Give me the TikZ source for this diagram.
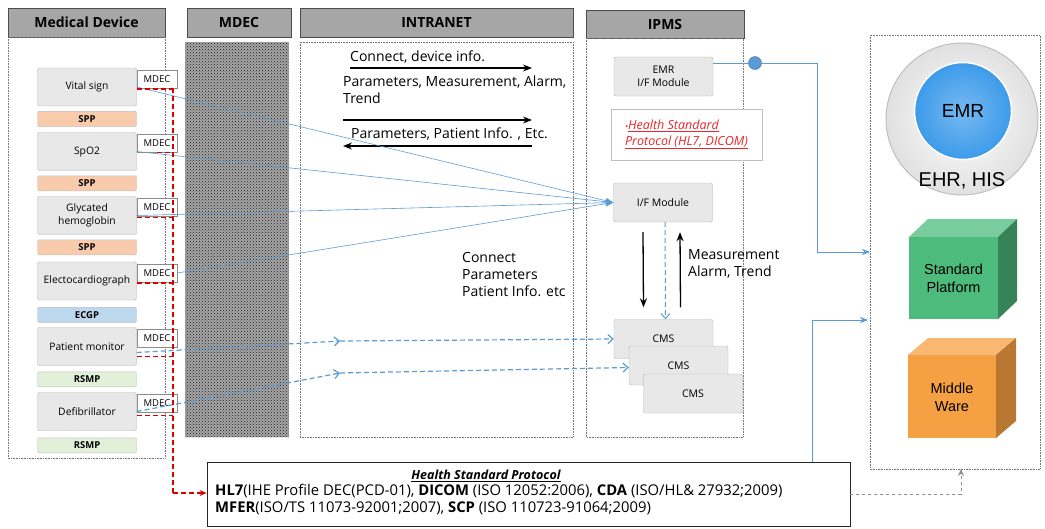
\documentclass[tikz,border=0pt]{standalone}
\usepackage{fontspec}
\setmainfont{Open Sans}
\newfontfamily\arialfont{Liberation Sans}
\usetikzlibrary{arrows.meta,patterns,positioning}

\definecolor{hdrgray}{HTML}{A6A6A6}
\definecolor{boxgray}{HTML}{E8E8E8}
\definecolor{sppfill}{HTML}{F8CBAD}
\definecolor{ecgfill}{HTML}{BDD7EE}
\definecolor{rsmfill}{HTML}{E2F0D9}
\definecolor{linkblue}{HTML}{5B9BD5}
\definecolor{stdred}{HTML}{E8262A}
\definecolor{emrblue}{HTML}{3D9BEA}
\definecolor{greenfront}{HTML}{4DBB7C}
\definecolor{orangefront}{HTML}{F5A043}

\tikzset{
  header/.style={draw=black!70, fill=hdrgray, line width=0.9pt, inner sep=0pt,
    font=\bfseries\fontsize{14}{16}\selectfont},
  column/.style={draw=black!55, densely dotted, line width=0.6pt},
  devbox/.style={draw=black!30, fill=boxgray, rounded corners=2pt, align=center,
    minimum width=99pt, minimum height=38pt, inner sep=1pt,
    font=\fontsize{10.3}{13}\selectfont},
  protobar/.style={draw=black!25, rounded corners=1pt, minimum width=99pt,
    minimum height=15pt, inner sep=0pt, font=\bfseries\fontsize{9.5}{10}\selectfont},
  mdecbox/.style={draw=black!45, fill=white, minimum width=40pt, minimum height=18pt,
    inner sep=0pt, font=\fontsize{9.5}{10}\selectfont},
  modbox/.style={draw=black!30, fill=boxgray, rounded corners=2pt, align=center,
    minimum width=99pt, minimum height=39pt, inner sep=1pt,
    font=\fontsize{10.5}{13}\selectfont},
  note/.style={inner sep=0pt, align=left, font=\fontsize{14}{17}\selectfont},
  blkarrow/.style={-{Stealth[length=9pt,width=7pt]}, line width=1.3pt},
  blueline/.style={draw=linkblue, line width=0.6pt},
  bluearrow/.style={blueline, -{Stealth[length=8pt,width=6pt]}},
  bluedash/.style={draw=linkblue, dash pattern=on 5pt off 3pt, line width=1.2pt,
    -{Straight Barb[length=5pt,width=9pt]}},
  reddash/.style={draw=red!85!black, dash pattern=on 5pt off 3pt, line width=1.2pt},
}

\begin{document}
\begin{tikzpicture}[x=1pt, y=-1pt]
  \useasboundingbox (0,0) rectangle (1045,528);

  % column headers
  \node[header, minimum width=157pt, minimum height=29pt] (hdev) at (86.5,22.5) {Medical Device};
  \node[header, minimum width=104pt, minimum height=29pt] (hmdec) at (239,22.5) {MDEC};
  \node[header, minimum width=273pt, minimum height=29pt] (hnet) at (436.5,22.5) {INTRANET};
  \node[header, minimum width=158pt, minimum height=28pt] (hipms) at (665,24) {IPMS};

  % columns
  \draw[column] (8,37) rectangle (165,458);
  \fill[black!35] (185,42) rectangle (289,437);
  \fill[pattern=crosshatch dots, pattern color=black!90] (185,42) rectangle (289,437);
  \draw[column] (300,42) rectangle (573,437);
  \draw[column] (586,38) rectangle (743,437);
  \draw[column] (870,35) rectangle (1040,469);

  % medical devices
  \foreach \name/\y/\txt in {vs/87/Vital sign, spo/151.5/SpO2, gly/215.5/{Glycated\\hemoglobin},
      ecg/281/Electocardiograph, pm/346.5/Patient monitor, def/411.5/Defibrillator}{
    \node[devbox] (\name) at (87,\y) {\txt};
    \node[mdecbox, anchor=north west] (m\name) at ([yshift=-2pt]\name.north east) {MDEC};
  }
  \node[protobar, fill=sppfill, below=5pt of vs] (p1) {SPP};
  \node[protobar, fill=sppfill, below=5pt of spo] (p2) {SPP};
  \node[protobar, fill=sppfill, below=5pt of gly] (p3) {SPP};
  \node[protobar, fill=ecgfill, below=7pt of ecg] (p4) {ECGP};
  \node[protobar, fill=rsmfill, below=6pt of pm] (p5) {RSMP};
  \node[protobar, fill=rsmfill, below=7pt of def] (p6) {RSMP};

  % IPMS modules
  \node[modbox] (emrif) at (663.5,76.5) {EMR\\I/F Module};
  \node[draw=black!25, fill=white, minimum width=151pt, minimum height=51pt, inner sep=0pt,
    text=stdred, align=left, font=\itshape\fontsize{12.5}{16}\selectfont] (hsp) at (686.5,134.5)
    {{\fontsize{8}{8}\selectfont\textbullet}\underline{Health Standard}\\\underline{Protocol (HL7, DICOM)}};
  \node[modbox] (ifm) at (663,202.5) {I/F Module};
  \node[modbox] (cms1) at (663.5,339) {CMS};
  \node[modbox] (cms2) at (678.5,365.5) {CMS};
  \node[modbox] (cms3) at (693,393.5) {CMS};

  % intranet messages
  \node[note, anchor=south west] (t1) at (350,64) {Connect, device info.};
  \coordinate (a1s) at (350,68);
  \coordinate (a1e) at (532,68);
  \draw[blkarrow, line width=1.1pt] (a1s) -- (a1e);
  \node[note, anchor=north west] (t2) at (343,76) {Parameters, Measurement, Alarm,\\Trend};
  \coordinate (a2s) at (343,120);
  \coordinate (a2e) at (532,120);
  \draw[blkarrow, line width=1.1pt] (a2s) -- (a2e);
  \node[note, anchor=south west] (t3) at (351,141) {Parameters, Patient Info. , Etc.};
  \coordinate (a3s) at (532,146);
  \coordinate (a3e) at (343,146);
  \draw[blkarrow, line width=1.1pt] (a3s) -- (a3e);
  \node[note, anchor=north west] (t4) at (462,252) {Connect\\Parameters\\Patient Info. etc};
  \node[note, anchor=north west] (t5) at (688,249) {Measurement\\Alarm, Trend};

  % device links to I/F module
  \draw[bluearrow] (vs.east) -- (ifm.west);
  \draw[bluearrow] (spo.east) -- (ifm.west);
  \draw[bluearrow] (gly.east) -- (ifm.west);
  \draw[bluearrow] (mecg.east) -- (ifm.west);

  % device links to CMS
  \coordinate (mid1) at (340,341);
  \coordinate (mid2) at (340,373);
  \draw[bluedash] ([yshift=-6pt]pm.east) -- (mid1);
  \draw[bluedash] (mid1) -- (cms1.west);
  \draw[bluedash] (def.east) -- (mid2);
  \draw[bluedash] (mid2) -- ([yshift=-2pt]cms2.west);

  % I/F module and CMS
  \draw[blkarrow] ([xshift=-20pt,yshift=-10pt]ifm.south) -- ([xshift=-20pt,yshift=12pt]cms1.north);
  \draw[bluedash, line width=1pt] ([xshift=2pt]ifm.south) -- ([xshift=2pt]cms1.north);
  \draw[blkarrow] ([xshift=17pt,yshift=12pt]cms1.north) -- ([xshift=17pt,yshift=-10pt]ifm.south);

  % health standard protocol
  \node[draw=black!85, line width=0.8pt, minimum width=643pt, minimum height=64pt] (proto) at (528.5,494) {};
  \node[inner sep=0pt, font=\bfseries\itshape\fontsize{12.5}{14}\selectfont] (ptitle) at (486,476) {\underline{Health Standard Protocol}};
  \node[inner sep=0pt, anchor=north west, align=left, font=\fontsize{14.8}{17}\selectfont] (ptext) at (215,484)
    {\textbf{HL7}(IHE Profile DEC(PCD-01), \textbf{DICOM} (ISO 12052:2006), \textbf{CDA} (ISO/HL\& 27932;2009)\\
     \textbf{MFER}(ISO/TS 11073-92001;2007), \textbf{SCP} (ISO 110723-91064;2009)};

  % red dashed links to protocol
  \coordinate (rtop) at (173,88);
  \coordinate (rbot) at (173,493);
  \draw[reddash] (rtop) -- (rbot);
  \draw[reddash, -{Stealth[length=7pt,width=6pt]}] (rbot) -- (rbot -| proto.west);
  \draw[reddash] ([yshift=-2pt]vs.east) -- ([yshift=-2pt]vs.east -| rtop);
  \draw[reddash] (mspo.south) -- (mspo.south -| rtop);
  \draw[reddash] ([yshift=-2pt]gly.east) -- ([yshift=-2pt]gly.east -| rtop);
  \draw[reddash] ([yshift=-2pt]ecg.east) -- ([yshift=-2pt]ecg.east -| rtop);
  \draw[reddash] ([yshift=-10pt]pm.east) -- ([yshift=-10pt]pm.east -| rtop);
  \draw[reddash] ([yshift=-4pt]def.east) -- ([yshift=-4pt]def.east -| rtop);

  % right side systems
  \node[circle, fill=linkblue, draw=linkblue!70!black, minimum size=13pt, inner sep=0pt] (dot) at (755,63) {};
  \coordinate (emrin) at (870,252);
  \coordinate (stdin) at (868,320);
  \coordinate (hisin) at (961,469);
  \draw[blueline] ([yshift=13.5pt]emrif.east) -- (dot);
  \draw[bluearrow] (dot) -- ++(62,0) |- (emrin);
  \draw[bluearrow] ([xshift=-38pt]proto.north east) |- (stdin);
  \draw[draw=black!45, dashed, line width=0.9pt, -{Stealth[length=7pt,width=6pt]}] (proto.east) -| (hisin);

  \node[circle, minimum size=152pt, inner sep=0pt, draw=black!25, line width=1pt,
    inner color=white, outer color=black!12] (his) at (962,119) {};
  \node[circle, minimum size=97pt, inner sep=0pt, draw=white, line width=1.5pt,
    inner color=emrblue!70, outer color=emrblue, font=\arialfont\fontsize{19}{21}\selectfont] (emr) at (963,111) {EMR};
  \node[font=\arialfont\fontsize{20}{22}\selectfont, inner sep=0pt] (hislbl) at (962,181) {EHR, HIS};

  % platform cube
  \fill[greenfront!75!white] (909,237) -- (928,219) -- (1017,219) -- (998,237) -- cycle;
  \fill[greenfront!70!black] (998,237) -- (1017,219) -- (1017,301) -- (998,319) -- cycle;
  \fill[greenfront] (909,237) rectangle (998,319);
  \node[align=center, font=\arialfont\fontsize{14.5}{18}\selectfont, inner sep=0pt] (plat) at (953.5,278) {Standard\\Platform};

  % middleware cube
  \fill[orangefront!75!white] (908,355) -- (928,338) -- (1016,338) -- (996,355) -- cycle;
  \fill[orangefront!75!black] (996,355) -- (1016,338) -- (1016,421) -- (996,438) -- cycle;
  \fill[orangefront] (908,355) rectangle (996,438);
  \node[align=center, font=\arialfont\fontsize{14.5}{18}\selectfont, inner sep=0pt] (mw) at (952,397) {Middle\\Ware};
\end{tikzpicture}
\end{document}
